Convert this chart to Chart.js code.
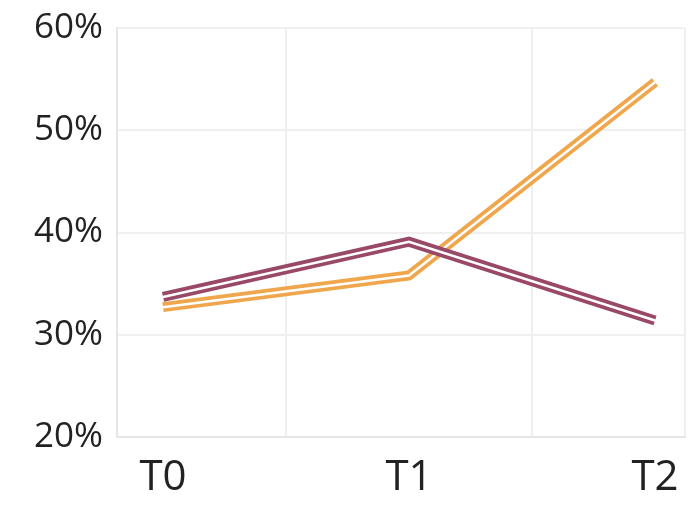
<!DOCTYPE html>
<html>
<head>
<meta charset="utf-8">
<script src="https://cdn.jsdelivr.net/npm/chart.js@4"></script>
<style>
html,body{margin:0;padding:0;background:#fff;overflow:hidden;}
#wrap{width:692px;height:505px;}
</style>
</head>
<body>
<div id="wrap"><canvas id="c" width="692" height="505"></canvas></div>
<script>
const categories = ['T0', 'T1', 'T2'];
const seriesPurple = [33.7, 39.1, 31.4];
const seriesOrange = [32.7, 35.8, 54.7];
const yTicks = [20, 30, 40, 50, 60];

const purple = '#9a4868';
const orange = '#efa64c';

function pts(vals) { return vals.map((v, i) => ({ x: i, y: v })); }

const lineBase = { pointRadius: 0, tension: 0, borderJoinStyle: 'miter', borderCapStyle: 'butt', fill: false };

new Chart(document.getElementById('c'), {
  type: 'line',
  data: {
    datasets: [
      Object.assign({ label: 'P-in', data: pts(seriesPurple), borderColor: '#ffffff', borderWidth: 2.5, order: 0 }, lineBase),
      Object.assign({ label: 'P', data: pts(seriesPurple), borderColor: purple, borderWidth: 10, order: 1 }, lineBase),
      Object.assign({ label: 'O-in', data: pts(seriesOrange), borderColor: '#ffffff', borderWidth: 2.5, order: 2 }, lineBase),
      Object.assign({ label: 'O', data: pts(seriesOrange), borderColor: orange, borderWidth: 10, order: 3 }, lineBase)
    ]
  },
  options: {
    responsive: false,
    animation: false,
    layout: { padding: { top: 28, right: 7, left: 0, bottom: 0 } },
    plugins: { legend: { display: false }, tooltip: { enabled: false } },
    scales: {
      x: {
        type: 'linear',
        min: -0.187,
        max: 2.122,
        afterBuildTicks: (scale) => {
          scale.ticks = [scale.min, 0, 0.5, 1, 1.5, 2, scale.max].map(v => ({ value: v }));
        },
        afterFit: (scale) => { scale.height = 68; scale.paddingLeft = 0; scale.paddingRight = 0; },
        ticks: {
          autoSkip: false,
          maxRotation: 0,
          padding: 16,
          color: '#222',
          font: { family: 'Open Sans', size: 42 },
          callback: (v) => (Number.isInteger(v) && categories[v] !== undefined) ? categories[v] : ''
        },
        grid: {
          color: (ctx) => (ctx.tick && Number.isInteger(ctx.tick.value)) ? 'rgba(0,0,0,0)' : '#efefef',
          lineWidth: 2,
          drawTicks: false
        },
        border: { display: true, color: '#e6e6e6', width: 2 }
      },
      y: {
        min: 20,
        max: 60,
        afterBuildTicks: (scale) => { scale.ticks = yTicks.map(v => ({ value: v })); },
        afterFit: (scale) => { scale.width = 117; scale.paddingTop = 0; scale.paddingBottom = 0; },
        ticks: {
          padding: 14,
          color: '#222',
          font: { family: 'Open Sans', size: 35 },
          callback: (v) => v + '%'
        },
        grid: { color: '#f0f0f0', lineWidth: 2, drawTicks: false },
        border: { display: true, color: '#e6e6e6', width: 2 }
      }
    }
  }
});
</script>
</body>
</html>
